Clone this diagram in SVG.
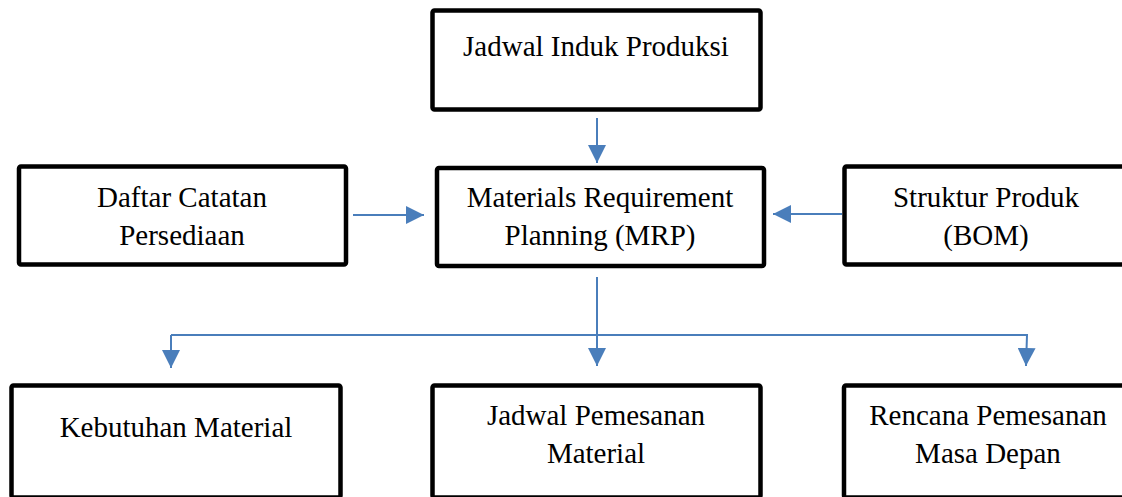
<svg xmlns="http://www.w3.org/2000/svg" width="1122" height="497" viewBox="0 0 1122 497">
  <style>
    .box { fill: #ffffff; stroke: #000000; stroke-width: 4.5; }
    .lbl { font-family: "Liberation Serif", "Times New Roman", serif; font-size: 29px; fill: #000000; text-anchor: middle; }
    .link { fill: none; stroke: #4A7EBB; stroke-width: 2; }
  </style>
  <defs>
    <marker id="head" markerUnits="userSpaceOnUse" markerWidth="18" markerHeight="18" viewBox="0 0 16 16" refX="16" refY="8" orient="auto">
      <path d="M0,0 L16,8 L0,16 Z" fill="#4A7EBB"/>
    </marker>
  </defs>
  <rect width="1122" height="497" fill="#ffffff"/>

  <g id="connectors">
    <line class="link" x1="597" y1="118" x2="597" y2="163" marker-end="url(#head)"/>
    <line class="link" x1="353" y1="215" x2="424" y2="215" marker-end="url(#head)"/>
    <line class="link" x1="842" y1="214" x2="773" y2="214" marker-end="url(#head)"/>
    <line class="link" x1="597" y1="277" x2="597" y2="366" marker-end="url(#head)"/>
    <polyline class="link" points="171,335 1027,335 1026,366" marker-end="url(#head)"/>
    <line class="link" x1="171" y1="335" x2="171" y2="368" marker-end="url(#head)"/>
  </g>

  <g id="jadwal-induk">
    <rect class="box" x="432.5" y="10.5" width="328" height="99" rx="2"/>
    <text class="lbl" x="596" y="56">Jadwal Induk Produksi</text>
  </g>

  <g id="daftar-catatan">
    <rect class="box" x="19" y="166.5" width="327" height="98" rx="2"/>
    <text class="lbl" x="182" y="207">Daftar Catatan</text>
    <text class="lbl" x="182" y="245">Persediaan</text>
  </g>

  <g id="mrp">
    <rect class="box" x="437" y="168" width="327" height="98" rx="2"/>
    <text class="lbl" x="600" y="207">Materials Requirement</text>
    <text class="lbl" x="600" y="245">Planning (MRP)</text>
  </g>

  <g id="struktur-produk">
    <rect class="box" x="844.5" y="166.5" width="300" height="98" rx="2"/>
    <text class="lbl" x="986" y="207">Struktur Produk</text>
    <text class="lbl" x="986" y="245">(BOM)</text>
  </g>

  <g id="kebutuhan-material">
    <rect class="box" x="11.5" y="385.5" width="329" height="112" rx="2"/>
    <text class="lbl" x="176" y="437">Kebutuhan Material</text>
  </g>

  <g id="jadwal-pemesanan">
    <rect class="box" x="432.5" y="385.5" width="328" height="112" rx="2"/>
    <text class="lbl" x="596" y="425">Jadwal Pemesanan</text>
    <text class="lbl" x="596" y="463">Material</text>
  </g>

  <g id="rencana-pemesanan">
    <rect class="box" x="844" y="385.5" width="300" height="112" rx="2"/>
    <text class="lbl" x="988" y="425">Rencana Pemesanan</text>
    <text class="lbl" x="988" y="463">Masa Depan</text>
  </g>
</svg>
